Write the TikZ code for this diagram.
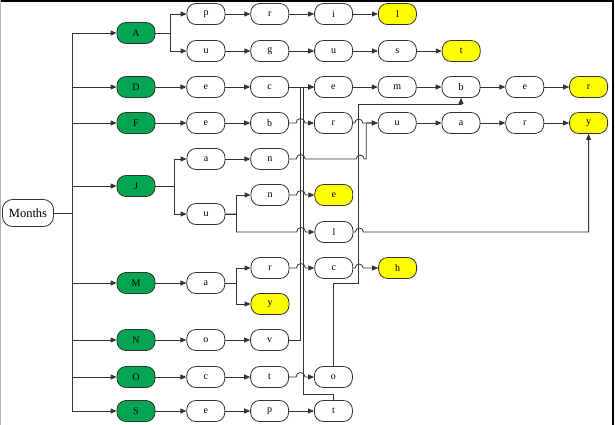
\documentclass[tikz,border=0pt]{standalone}
\usepackage{fontspec}
\setmainfont{Liberation Serif}
\usetikzlibrary{arrows.meta, positioning}
\definecolor{monthgreen}{HTML}{00A651}
\definecolor{endyellow}{HTML}{FFFF00}
\definecolor{inkdark}{HTML}{333333}

\begin{document}
\begin{tikzpicture}[
  x=1pt, y=1pt,
  node distance=25pt,
  font=\fontsize{10}{12}\selectfont,
  lbox/.style     = {draw=inkdark, line width=0.8pt, rounded corners=9pt, fill=white,
                     minimum width=38pt, minimum height=21pt, inner sep=0pt},
  monthbox/.style = {lbox, fill=monthgreen},
  endbox/.style   = {lbox, fill=endyellow},
  flow/.style     = {-{Triangle[length=6pt, width=5pt]}, draw=inkdark, line width=0.8pt},
]
\useasboundingbox (0,0) rectangle (615,-425);
\draw[line width=2pt] (0,-1) -- (612.5,-1) -- (612.5,-425);
\draw[gray!60, line width=1pt] (0.5,0) -- (0.5,-425);

% ---- root and first letters
\node[lbox, minimum width=51pt, minimum height=27pt, rounded corners=10pt,
      font=\fontsize{12.5}{14}\selectfont] (months) at (28,-213) {Months};
\node[monthbox] (a) at (136,-33)  {A};
\node[monthbox] (d) at (136,-87)  {D};
\node[monthbox] (f) at (136,-123) {F};
\node[monthbox] (j) at (136,-186) {J};
\node[monthbox] (m) at (136,-283) {M};
\node[monthbox] (n) at (136,-340) {N};
\node[monthbox] (o) at (136,-377) {O};
\node[monthbox] (s) at (136,-411) {S};

% ---- April, August
\node[lbox] (ap) at (206,-14) {p};
\node[lbox, right=of ap]     (apr)    {r};
\node[lbox, right=of apr]    (apri)   {i};
\node[endbox, right=of apri] (april)  {l};
\node[lbox] (au) at (206,-51) {u};
\node[lbox, right=of au]     (aug)    {g};
\node[lbox, right=of aug]    (augu)   {u};
\node[lbox, right=of augu]   (augus)  {s};
\node[endbox, right=of augus] (august) {t};

% ---- December, February
\node[lbox, right=31pt of d]   (de)      {e};
\node[lbox, right=of de]       (dec)     {c};
\node[lbox, right=of dec]      (dece)    {e};
\node[lbox, right=of dece]     (decem)   {m};
\node[lbox, right=of decem]    (decemb)  {b};
\node[lbox, right=of decemb]   (decembe) {e};
\node[endbox, right=of decembe] (december) {r};
\node[lbox, right=31pt of f]   (fe)      {e};
\node[lbox, right=of fe]       (feb)     {b};
\node[lbox, right=of feb]      (febr)    {r};
\node[lbox, right=of febr]     (febru)   {u};
\node[lbox, right=of febru]    (februa)  {a};
\node[lbox, right=of februa]   (februar) {r};
\node[endbox, right=of februar] (february) {y};

% ---- January, June, July
\node[lbox] (ja) at (206,-159) {a};
\node[lbox, right=of ja] (jan) {n};
\node[lbox] (ju) at (206,-214) {u};
\node[lbox] (jun) at (270,-195) {n};
\node[endbox, right=of jun] (june) {e};
\node[lbox] (jul) at (334,-232) {l};

% ---- March, May
\node[lbox, right=31pt of m] (ma) {a};
\node[lbox] (mar) at (270,-268) {r};
\node[lbox, right=of mar] (marc) {c};
\node[endbox, right=of marc] (march) {h};
\node[endbox] (may) at (270,-304) {y};

% ---- November, October, September
\node[lbox, right=31pt of n] (no)   {o};
\node[lbox, right=of no]     (nov)  {v};
\node[lbox, right=31pt of o] (oc)   {c};
\node[lbox, right=of oc]     (oct)  {t};
\node[lbox, right=of oct]    (octo) {o};
\node[lbox, right=31pt of s] (se)   {e};
\node[lbox, right=of se]     (sep)  {p};
\node[lbox, right=of sep]    (sept) {t};

% ---- root to first letters
\coordinate (trunk) at ([xshift=18pt]months.east);
\draw[flow] (months.east) -- (trunk) |- (a.west);
\draw[flow] (months.east) -- (trunk) |- (d.west);
\draw[flow] (months.east) -- (trunk) |- (f.west);
\draw[flow] (months.east) -- (trunk) |- (j.west);
\draw[flow] (months.east) -- (trunk) |- (m.west);
\draw[flow] (months.east) -- (trunk) |- (n.west);
\draw[flow] (months.east) -- (trunk) |- (o.west);
\draw[flow] (months.east) -- (trunk) |- (s.west);

% ---- straight runs
\draw[flow] (a.east) -- ++(15,0) |- (ap.west);
\draw[flow] (a.east) -- ++(15,0) |- (au.west);
\draw[flow] (ap) -- (apr);
\draw[flow] (apr) -- (apri);
\draw[flow] (apri) -- (april);
\draw[flow] (au) -- (aug);
\draw[flow] (aug) -- (augu);
\draw[flow] (augu) -- (augus);
\draw[flow] (augus) -- (august);
\draw[flow] (d) -- (de);
\draw[flow] (de) -- (dec);
\draw[flow] (dec) -- (dece);
\draw[flow] (dece) -- (decem);
\draw[flow] (decem) -- (decemb);
\draw[flow] (decemb) -- (decembe);
\draw[flow] (decembe) -- (december);
\draw[flow] (f) -- (fe);
\draw[flow] (fe) -- (feb);
\draw[flow] (febru) -- (februa);
\draw[flow] (februa) -- (februar);
\draw[flow] (februar) -- (february);
\draw[flow] (j.east) -- ++(19,0) |- (ja.west);
\draw[flow] (j.east) -- ++(19,0) |- (ju.west);
\draw[flow] (ja) -- (jan);
\draw[flow] (ju.east) -- ++(11,0) |- (jun.west);
\draw[flow] (m) -- (ma);
\draw[flow] (ma.east) -- ++(11,0) |- (mar.west);
\draw[flow] (ma.east) -- ++(11,0) |- (may.west);
\draw[flow] (n) -- (no);
\draw[flow] (no) -- (nov);
\draw[flow] (o) -- (oc);
\draw[flow] (oc) -- (oct);
\draw[flow] (s) -- (se);
\draw[flow] (se) -- (sep);
\draw[flow] (sep) -- (sept);

% ---- runs that hop over the shared lanes
\draw[flow] (feb) -- ([xshift=-18pt]febr.west) arc[start angle=180, end angle=0, radius=4.5] -- (febr);
\draw[flow] (febr) -- ([xshift=-23pt]febru.west) arc[start angle=180, end angle=0, radius=4] -- (febru);
\draw[flow] (jan.east) -- ++(7,0) arc[start angle=180, end angle=0, radius=4.5] -- ++(51,0)
            arc[start angle=180, end angle=0, radius=4] -- ++(2,0) |- (febru.west);
\draw[flow] (jun) -- ([xshift=-18pt]june.west) arc[start angle=180, end angle=0, radius=4.5] -- (june);
\draw[flow] (ju.east) -- ++(11,0) |- ([xshift=-18pt]jul.west)
            arc[start angle=180, end angle=0, radius=4.5] -- (jul);
\draw[flow] (jul.east) -- ++(2,0) arc[start angle=180, end angle=0, radius=4] -| (february.south);
\draw[flow] (mar) -- ([xshift=-18pt]marc.west) arc[start angle=180, end angle=0, radius=4.5] -- (marc);
\draw[flow] (marc) -- ([xshift=-23pt]march.west) arc[start angle=180, end angle=0, radius=4] -- (march);
\draw[flow] (oct) -- ([xshift=-18pt]octo.west) arc[start angle=180, end angle=0, radius=4.5] -- (octo);

% ---- shared endings
\draw[flow] (nov.east) -| ([xshift=-14pt]dece.west) -- (dece.west);
\draw[flow] (sept.north) -- ++(0,6) -| ([xshift=-11pt]dece.west) -- (dece.west);
\draw[flow] (octo.north) -- ++(0,83) -- ++(25,0) |- ([yshift=-7pt]decemb.south) -- (decemb.south);

\end{tikzpicture}
\end{document}
